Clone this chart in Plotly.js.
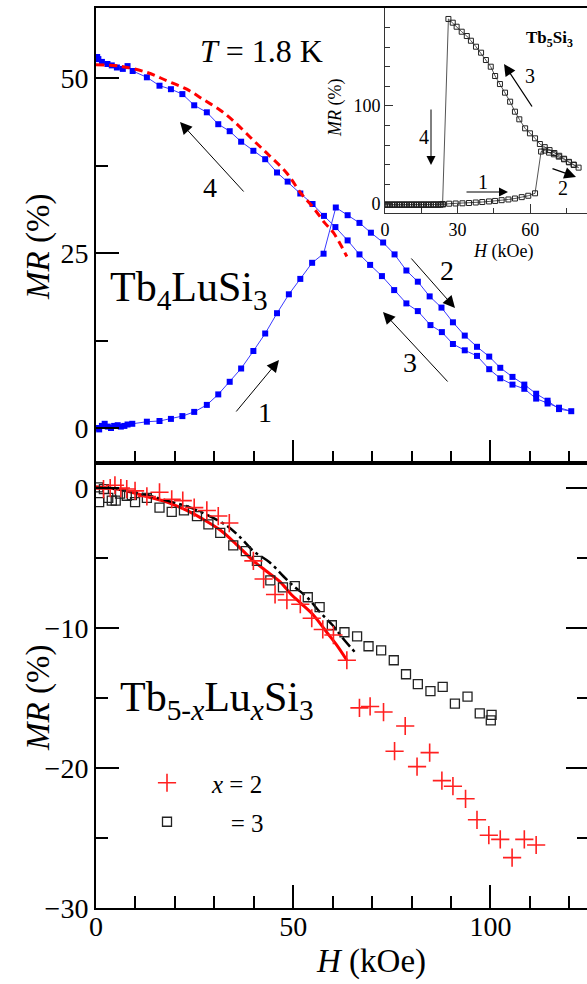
<!DOCTYPE html>
<html><head><meta charset="utf-8">
<script src="https://cdn.plot.ly/plotly-3.0.1.min.js"></script>
<style>html,body{margin:0;padding:0;overflow:hidden;background:#fff}</style>
</head><body><div id="chart" style="width:589px;height:984px"></div>
<script>
// ---------- Top panel: Tb4LuSi3 at T = 1.8 K (field cycle 1 -> 2 -> 3 -> 4) ----------
const tbH = [0.3,0.8,1.5,2.2,3.0,3.8,4.6,5.5,6.3,7.2,8.0,9.2,12.9,16.1,19.0,21.9,24.9,28.1,31.0,33.9,36.8,39.9,42.9,45.9,48.9,51.8,54.8,57.7,60.8,
  63.8,66.8,69.7,72.8,75.7,78.7,81.6,84.6,87.6,90.5,93.5,96.6,99.7,102.5,105.6,108.6,111.6,114.5,117.4,120.5,
  117.4,114.5,111.6,108.6,105.6,102.5,99.7,96.6,93.5,90.5,87.7,84.8,81.6,78.7,75.6,72.5,69.5,66.8,63.8,60.7,
  57.8,54.9,51.8,48.6,45.9,42.9,39.9,36.8,33.9,31.0,28.1,24.9,21.9,19.0,16.1,12.9,9.3,8.0,6.8,5.3,4.0,2.9,1.5,0.6,0.3];
const tbMR = [0.0,-0.2,0.3,0.6,0.2,0.0,0.3,0.4,0.2,0.3,0.5,0.6,0.9,1.0,1.3,1.7,2.3,3.3,4.8,6.6,8.5,11.0,13.5,16.4,19.1,21.3,23.6,24.9,31.5,
  30.4,29.3,27.9,26.5,24.8,22.5,20.9,18.8,17.2,15.1,13.2,11.6,10.2,8.6,7.3,6.2,4.9,3.9,2.7,2.4,
  2.9,3.5,4.2,5.6,6.2,7.1,8.4,10.3,11.1,12.0,13.7,14.7,16.7,17.8,19.7,21.7,23.3,24.8,26.8,28.7,
  30.3,32.0,33.5,35.2,36.5,38.4,39.6,40.9,42.4,43.4,45.1,46.1,47.7,48.4,48.9,50.1,51.0,51.7,51.3,51.5,51.8,52.0,52.3,52.7,53.0];
// red dashed curve
const fitTopH = [0,6,12.9,18,23,27,31.5,35,39.9,44,48.4,52,55.2,58,60.2,63.6];
const fitTopMR = [51.9,51.7,50.8,49.6,48.4,47.0,45.4,43.8,41.1,38.9,36.4,33.5,31.4,29.3,27.9,24.5];

// ---------- Inset: Tb5Si3 ----------
const inH = [0,1,2,3,4,5,6,7,8,9,10,11,12,13,14,15,16,17,18,19,20,21,22,23,24,26.5,29.2,32,34.7,37.5,40.2,43,45.5,48.2,51,53.7,56.5,59.2,62,
  64.5,66,67.8,69.8,71.8,74,76,78,80,
  78,76,74,72,70,68,66,64,62,59.9,57.9,55.5,53.7,51.7,49.6,47.5,45.5,43.7,41.7,39.7,37.6,35.5,33.8,31.7,29.6,28.0,26.2,
  23.8,23,22,21,20,19,18,17,16,15,14,13,12,11,10,9,8,7,6,5,4,3,2,1,0];
const inMR = [-1,-1,-1,-1,-1,-1,-1,-1,-1,-1,-1,-1,-1,-1,-1,-1,-1,-1,-1,-1,-0.8,-0.8,-0.8,-0.6,-0.5,0.3,0.5,0.7,1.0,1.5,2.0,2.6,3.1,3.9,4.6,5.6,7.0,8.4,10.9,
  53.5,54.5,52.4,50.7,48.3,45.6,42.5,39.8,37.1,
  40.2,43.0,46.2,49.2,52.0,55.0,58.0,61.2,67.0,72.1,77.2,86.4,94.2,104.4,113.6,122.4,130.6,140.1,146.9,154.4,160.5,166.6,171.4,175.8,180.9,185.0,188.8,
  0,-0.5,-0.5,-0.5,-0.5,-0.5,-0.5,-0.5,-0.5,-0.5,-0.5,-0.5,-0.5,-0.5,-0.5,-0.5,-0.5,-0.5,-0.5,-0.5,-0.5,-0.5,-0.5,-0.5,-0.5];

// ---------- Bottom panel: Tb(5-x)Lu(x)Si3 ----------
const x3H = [0.6,0.8,2.0,3.1,4.0,5.0,6.1,7.8,9.1,9.9,12.9,16.1,19.2,22.3,25.6,28.5,31.5,34.8,38.0,40.8,44.2,47.4,50.4,53.7,56.7,59.8,63.0,66.2,69.1,72.3,75.5,78.6,81.6,84.8,87.9,91.0,94.2,97.3,100.3,100.1];
const x3MR = [0.05,-1.0,-0.07,-0.7,-0.9,-0.9,-0.4,-0.55,-0.5,-1.0,-0.7,-1.4,-1.7,-1.6,-2.0,-2.6,-3.2,-4.1,-4.5,-5.2,-6.6,-7.1,-7.0,-7.8,-8.5,-9.8,-10.3,-10.6,-11.3,-11.6,-12.3,-13.3,-14.0,-14.5,-14.2,-15.4,-14.9,-16.1,-16.2,-16.6];
const x2H = [1.9,3.6,4.8,6.3,7.8,9.9,12.9,16.1,19.2,22.0,24.9,28.1,31.0,33.8,39.9,42.5,45.4,48.4,51.8,54.7,57.5,60.2,63.6,66.8,69.5,72.9,75.7,78.4,81.4,84.6,87.7,90.5,93.7,96.6,99.6,102.5,105.5,108.6,111.6];
const x2MR = [-0.07,0.0,0.2,0.0,-0.07,-0.2,-0.6,-0.3,-0.8,-0.9,-1.4,-1.6,-2.0,-2.5,-5.2,-6.5,-7.6,-8.0,-8.3,-9.3,-10.1,-10.5,-12.3,-15.7,-15.6,-16.0,-18.8,-17.0,-19.9,-18.9,-20.9,-21.3,-22.2,-23.7,-24.8,-25.1,-26.4,-25.1,-25.5];
const fitRedH = [0,6,12.9,18,23,27,31.5,35.5,39.9,43.5,46.7,49.5,51.8,55.2,58.5,61,63.6];
const fitRedMR = [0.1,-0.1,-0.6,-1.0,-1.6,-2.2,-3.0,-4.0,-5.2,-6.0,-6.7,-7.6,-8.2,-9.1,-10.3,-11.2,-12.3];
const fitBlkH = [0,6,12.9,18,23,28,33.2,36.5,39.9,44,47.5,50.1,53.5,56.9,60,62.8,66.2];
const fitBlkMR = [0,-0.1,-0.5,-0.9,-1.3,-1.9,-2.7,-3.5,-4.5,-5.3,-6.3,-7.0,-7.8,-8.9,-9.8,-10.8,-11.9];

const legendLabels = ['\u00a0\u00a0\u00a0\u00a0<i>x</i> = 2', '\u00a0\u00a0\u00a0\u00a0\u00a0\u00a0\u00a0= 3'];
const topTicks = [0,25,50], botTicks = [0,-10,-20,-30], xTicks = [0,50,100];

// ---------- geometry helpers (pixels -> paper) ----------
const W=589, HT=984, L=96, T=8, B=76;
const PW=W-L, PH=HT-T-B;
const px = x => (x-L)/PW;
const py = y => (HT-B-y)/PH;
const FONT = '"Liberation Serif", "Times New Roman", Times, serif';

const traces = [
  {x: tbH, y: tbMR, xaxis:'x', yaxis:'y', mode:'lines+markers', showlegend:false,
   line:{color:'#3a3aff', width:1}, marker:{symbol:'square', size:6, color:'#0000ff'}},
  {x: fitTopH, y: fitTopMR, xaxis:'x', yaxis:'y', mode:'lines', showlegend:false,
   line:{color:'#ff0000', width:3, dash:'8px,5px', shape:'spline'}},
  {x: inH, y: inMR, xaxis:'x3', yaxis:'y3', mode:'lines+markers', showlegend:false,
   line:{color:'#555', width:1}, marker:{symbol:'square-open', size:5, color:'#222', line:{width:1}}},
  {x: fitRedH, y: fitRedMR, xaxis:'x2', yaxis:'y2', mode:'lines', showlegend:false,
   line:{color:'#ff0000', width:3, shape:'spline'}},
  {x: fitBlkH, y: fitBlkMR, xaxis:'x2', yaxis:'y2', mode:'lines', showlegend:false,
   line:{color:'#000', width:2.5, dash:'12px,4px,3px,4px', shape:'spline'}},
  {x: x3H, y: x3MR, xaxis:'x2', yaxis:'y2', mode:'markers', name: legendLabels[1], legend:'legend2',
   marker:{symbol:'square-open', size:9, color:'#222', line:{width:1.3}}},
  {x: x2H, y: x2MR, xaxis:'x2', yaxis:'y2', mode:'markers', name: legendLabels[0], legend:'legend',
   marker:{symbol:'cross-thin-open', size:13, color:'#ff2020', line:{width:1.6, color:'#ff2020'}}}
];

const axBase = {showline:true, linecolor:'#000', linewidth:2, ticks:'inside', tickwidth:2, tickcolor:'#000',
  showgrid:false, zeroline:false, tickfont:{family:FONT, size:28, color:'#000'}};
const inBase = {showline:true, linecolor:'#333', linewidth:1, ticks:'inside', tickwidth:1, tickcolor:'#333',
  showgrid:false, zeroline:false, tickfont:{family:FONT, size:18, color:'#000'}};

const ann = [];
function txt(t, x, y, size, opts){ ann.push(Object.assign({text:t, xref:'paper', yref:'paper', x:px(x), y:py(y),
  showarrow:false, font:{family:FONT, size:size, color:'#000'}, xanchor:'center', yanchor:'middle'}, opts||{})); }
function arr(hx, hy, tx, ty, size, w){ ann.push({text:'', xref:'paper', yref:'paper', x:px(hx), y:py(hy),
  ax: tx-hx, ay: ty-hy, showarrow:true, arrowhead:2, arrowsize:size, arrowwidth:w, arrowcolor:'#000'}); }

txt('<i>T</i> = 1.8 K', 261, 51, 32);
txt('Tb<sub>4</sub>LuSi<sub>3</sub>', 108, 290, 42, {xanchor:'left'});
txt('Tb<sub>5-<i>x</i></sub>Lu<sub><i>x</i></sub>Si<sub>3</sub>', 118, 700, 42, {xanchor:'left'});
txt('<b>Tb<sub>5</sub>Si<sub>3</sub></b>', 549, 39, 17);
txt('<i>MR</i> (%)', 38, 247, 33, {textangle:-90});
txt('<i>MR</i> (%)', 38, 698, 33, {textangle:-90});
txt('<i>H</i> (kOe)', 371, 961, 33);
txt('<i>MR</i> (%)', 335, 108, 18, {textangle:-90});
txt('<i>H</i> (kOe)', 503, 252, 18);
txt('4', 210, 187, 28); txt('1', 265, 412, 28); txt('2', 447, 270, 28); txt('3', 410, 362, 28);
txt('1', 483, 182, 20); txt('2', 563, 188, 20); txt('3', 530, 76, 20); txt('4', 424, 137, 20);
arr(180,122,245,193,2.4,1); arr(279,360,235,413,2.4,1); arr(455,308,410,257,2.4,1); arr(383,312,449,383,2.4,1);
arr(508,192,465,192,1.8,1); arr(576,177,551,168,1.8,1.3); arr(504,64,533,108,1.8,1.3); arr(431,165,431,108,1.8,1);

const layout = {
  width:W, height:HT, margin:{l:L, r:0, t:T, b:B}, paper_bgcolor:'#fff', plot_bgcolor:'rgba(0,0,0,0)',
  font:{family:FONT, color:'#000'},
  xaxis: Object.assign({}, axBase, {domain:[0,1], anchor:'y', range:[0,125], tickvals:xTicks, showticklabels:false,
    ticklen:23, mirror:true, minor:{dtick:10, tick0:0, ticklen:12, ticks:'inside', tickwidth:2, tickcolor:'#000', showgrid:false}}),
  yaxis: Object.assign({}, axBase, {domain:[py(463),1], anchor:'x', range:[-5,60], tickvals:topTicks, ticklen:23,
    minor:{dtick:12.5, tick0:0, ticklen:12, ticks:'inside', tickwidth:2, tickcolor:'#000', showgrid:false}}),
  xaxis2: Object.assign({}, axBase, {domain:[0,1], anchor:'y2', range:[0,125], tickvals:xTicks, ticklen:23, mirror:true,
    ticklabelposition:'outside', ticklabelstandoff:-8,
    minor:{dtick:10, tick0:0, ticklen:12, ticks:'inside', tickwidth:2, tickcolor:'#000', showgrid:false}}),
  yaxis2: Object.assign({}, axBase, {domain:[0,py(463)], anchor:'x2', range:[-30,1.79], tickvals:botTicks, ticklen:23, mirror:'ticks',
    minor:{dtick:5, tick0:0, ticklen:12, ticks:'inside', tickwidth:2, tickcolor:'#000', showgrid:false}}),
  xaxis3: Object.assign({}, inBase, {domain:[px(385),1], anchor:'y3', range:[0,84.3], dtick:30, tick0:0, ticklen:9,
    minor:{dtick:15, tick0:0, ticklen:5, ticks:'inside', tickwidth:1, tickcolor:'#333', showgrid:false}}),
  yaxis3: Object.assign({}, inBase, {domain:[py(213),1], anchor:'x3', range:[-9.2,200], dtick:100, tick0:0, ticklen:8,
    minor:{dtick:20, tick0:0, ticklen:5, ticks:'inside', tickwidth:1, tickcolor:'#333', showgrid:false}}),
  legend: {x:px(147), y:py(783), xanchor:'left', yanchor:'middle', bgcolor:'rgba(0,0,0,0)', borderwidth:0,
    font:{family:FONT, size:25, color:'#000'}},
  legend2: {x:px(147), y:py(822), xanchor:'left', yanchor:'middle', bgcolor:'rgba(0,0,0,0)', borderwidth:0,
    font:{family:FONT, size:25, color:'#000'}},
  annotations: ann
};
Plotly.newPlot('chart', traces, layout, {staticPlot:true, displayModeBar:false});
</script></body></html>
